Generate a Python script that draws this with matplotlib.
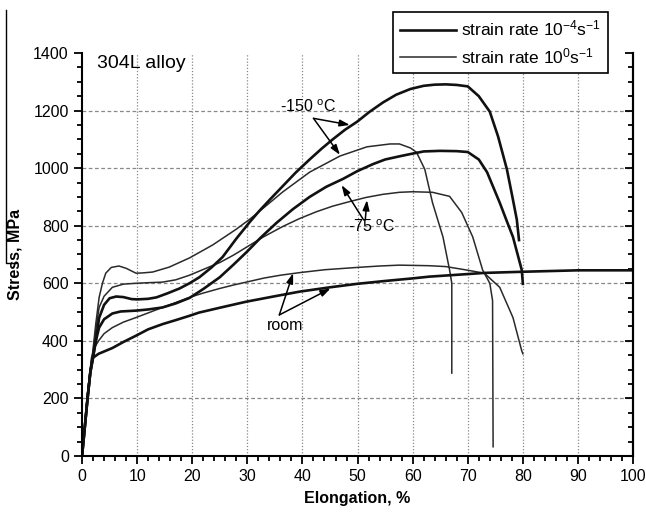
import matplotlib
matplotlib.use("Agg")
import matplotlib.pyplot as plt
from matplotlib.lines import Line2D
from matplotlib.ticker import MultipleLocator

plt.rcParams['font.family'] = ['Liberation Sans', 'DejaVu Sans']
plt.rcParams['mathtext.fontset'] = 'custom'
plt.rcParams['mathtext.rm'] = 'Liberation Sans'
plt.rcParams['mathtext.it'] = 'Liberation Sans'

# -150 C, strain rate 1e-4 (thick)
a_x = [0, 0.5, 1.0, 1.5, 1.9, 2.5, 3.1, 4, 5, 6.2, 7.5, 9, 10, 12, 13.5, 15.5, 17.7, 19.5,
       21.3, 23.5, 25.5, 28, 30.4, 32.2, 34.3, 36.4, 38.8, 41.3, 43.5, 45.5, 47.7, 49.9,
       52.2, 54.6, 57, 59.6, 62, 64, 66, 68, 70, 72, 74, 75.5, 77.1, 78.1, 78.9, 79.3]
a_y = [0, 100, 200, 290, 330, 400, 480, 525, 548, 554, 552, 545, 544, 546, 551, 565, 582, 600,
       621, 655, 691, 755, 812, 852, 895, 937, 985, 1030, 1068, 1100, 1133, 1161,
       1196, 1228, 1255, 1275, 1286, 1290, 1291, 1289, 1284, 1250, 1196, 1110, 996, 900, 821, 750]

# -150 C, strain rate 1e0 (thin)
b_x = [0, 0.5, 1, 1.5, 1.9, 2.5, 3.1, 3.7, 4.3, 5.3, 6.7, 8, 9.8, 11, 12.8, 15.8, 19.5, 23.7,
       28, 30.4, 32.2, 36.4, 41.3, 46.8, 51.7, 55.9, 57.6, 59.6, 60.7, 62.2, 63.6, 65.5,
       66.7, 67.1, 67.1]
b_y = [0, 110, 220, 300, 354, 460, 551, 600, 635, 655, 660, 652, 635, 636, 639, 656, 688, 733,
       788, 822, 850, 917, 986, 1042, 1074, 1084, 1084, 1070, 1055, 996, 880, 761,
       646, 600, 288]

# -75 C, strain rate 1e-4 (thick)
c_x = [0, 0.5, 1, 1.5, 1.9, 2.5, 3.1, 4, 5.5, 7, 9.8, 12, 14.6, 17, 19.5, 22, 25, 27.5, 29.9,
       32.5, 35.3, 38.3, 41.3, 44.3, 47.4, 50, 52.8, 55, 57.6, 59.6, 62, 65, 68, 70, 72,
       73.5, 75.8, 77, 78.2, 79.8, 80]
c_y = [0, 100, 200, 290, 335, 400, 446, 475, 495, 502, 505, 509, 516, 530, 549, 580, 621, 665, 709,
       760, 810, 858, 900, 935, 963, 990, 1014, 1030, 1041, 1049, 1058, 1060, 1059, 1056, 1030,
       986, 880, 820, 761, 646, 598]

# -75 C, strain rate 1e0 (thin)
d_x = [0, 0.5, 1, 1.5, 1.9, 2.5, 3.1, 4, 5.5, 7.5, 9.8, 12, 14.6, 17, 19.5, 22, 25, 27.5, 29.9,
       33, 36.4, 39.5, 42.6, 45.5, 48.6, 51.5, 54.6, 57.6, 60, 63.6, 66.7, 68.9, 70.9, 72.7,
       74, 74.5, 74.6]
d_y = [0, 110, 215, 300, 345, 440, 516, 555, 586, 597, 600, 602, 604, 612, 628, 648, 672, 698, 726,
       762, 797, 825, 849, 868, 884, 898, 909, 916, 918, 916, 902, 846, 761, 646,
       600, 540, 32]

# room temperature, strain rate 1e0 (thin)
e_x = [0, 0.5, 1, 1.7, 2.2, 3, 4, 5.5, 7.5, 9.8, 12, 14.6, 17, 19.5, 22, 25, 27.5, 29.8, 33, 36,
       39.5, 44, 49.9, 54, 57.6, 63, 66, 69.8, 73, 75.8, 78.2, 79.8, 80]
e_y = [0, 110, 215, 340, 375, 400, 425, 446, 465, 481, 497, 516, 533, 551, 566, 582, 594, 604, 618, 628,
       637, 647, 655, 660, 663, 661, 658, 646, 635, 586, 481, 365, 355]

# room temperature, strain rate 1e-4 (thick)
f_x = [0, 0.5, 1, 1.5, 1.9, 3, 5.5, 7.5, 9.8, 12, 14.6, 17, 19.5, 21.2, 25, 29.8, 35, 39.5, 45,
       49.9, 55, 60, 63, 70, 73, 80, 90, 100]
f_y = [0, 100, 200, 290, 340, 355, 375, 396, 418, 440, 458, 472, 487, 498, 515, 536, 555, 571, 586,
       598, 608, 617, 623, 632, 636, 640, 645, 645]

legend_labels = [r'strain rate 10$^{\mathregular{-4}}$s$^{\mathregular{-1}}$',
                 r'strain rate 10$^{\mathregular{0}}$s$^{\mathregular{-1}}$']

thick = dict(color='#111111', lw=1.9, solid_joinstyle='round')
thin = dict(color='#2a2a2a', lw=1.1, solid_joinstyle='round')

fig = plt.figure(figsize=(6.46, 5.15), dpi=100)
ax = fig.add_axes([0.127, 0.1146, 0.853, 0.7825])

ax.plot(b_x, b_y, **thin)
ax.plot(d_x, d_y, **thin)
ax.plot(e_x, e_y, **thin)
ax.plot(a_x, a_y, **thick)
ax.plot(c_x, c_y, **thick)
ax.plot(f_x, f_y, **thick)

ax.set_xlim(0, 100)
ax.set_ylim(0, 1400)
ax.xaxis.set_major_locator(MultipleLocator(10))
ax.xaxis.set_minor_locator(MultipleLocator(2))
ax.yaxis.set_major_locator(MultipleLocator(200))
ax.yaxis.set_minor_locator(MultipleLocator(50))

for x in range(10, 100, 10):
    ax.axvline(x, color='#888888', lw=0.9, ls=(0, (1, 1.5)), zorder=0)
for y in range(200, 1400, 200):
    ax.axhline(y, color='#888888', lw=0.9, ls=(0, (3, 2)), zorder=0)

ax.spines['top'].set_visible(False)
for s in ['left', 'bottom', 'right']:
    ax.spines[s].set_linewidth(1.5)
ax.tick_params(which='both', direction='out', width=1.3, labelsize=11.5)
ax.tick_params(which='major', length=6)
ax.tick_params(which='minor', length=3.5)
ax.tick_params(axis='y', which='both', right=False)

# right side ticks point inward
sec = ax.secondary_yaxis('right')
sec.yaxis.set_major_locator(MultipleLocator(200))
sec.yaxis.set_minor_locator(MultipleLocator(50))
sec.tick_params(which='both', direction='in', width=1.3, labelright=False)
sec.tick_params(which='major', length=6)
sec.tick_params(which='minor', length=3.5)
sec.spines['right'].set_linewidth(1.5)

ax.set_xlabel('Elongation, %', fontsize=11.5, fontweight='bold')
ax.set_ylabel('Stress, MPa', fontsize=11.5, fontweight='bold')
ax.xaxis.set_label_coords(0.5, -0.088)
ax.yaxis.set_label_coords(-0.108, 0.5)

ax.text(2.7, 1392, '304L alloy', fontsize=14, va='top', ha='left')

arrow = dict(arrowstyle='-|>,head_length=0.6,head_width=0.2', color='black', lw=1.1,
             shrinkA=0, shrinkB=0)
ax.text(41.1, 1212, r'-150 $^{\mathregular{o}}$C', fontsize=11.5, ha='center', va='center')
ax.annotate('', xy=(48.6, 1150), xytext=(42.0, 1173), arrowprops=arrow)
ax.annotate('', xy=(46.8, 1046), xytext=(42.0, 1173), arrowprops=arrow)

ax.text(52.6, 797, r'-75 $^{\mathregular{o}}$C', fontsize=11.5, ha='center', va='center')
ax.annotate('', xy=(47.1, 941), xytext=(51.1, 820), arrowprops=arrow)
ax.annotate('', xy=(51.7, 889), xytext=(51.4, 820), arrowprops=arrow)

ax.text(36.8, 455, 'room', fontsize=11.5, ha='center', va='center')
ax.annotate('', xy=(38.3, 635), xytext=(35.8, 490), arrowprops=arrow)
ax.annotate('', xy=(45.1, 582), xytext=(35.8, 490), arrowprops=arrow)

handles = [Line2D([], [], **thick), Line2D([], [], **thin)]
leg = ax.legend(handles, legend_labels, loc='upper left', bbox_to_anchor=(0.565, 1.102),
                borderaxespad=0, fancybox=False, framealpha=1, edgecolor='black',
                fontsize=12.5, handlelength=3.2, handletextpad=0.3, labelspacing=0.45,
                borderpad=0.4)
leg.get_frame().set_linewidth(1.2)
leg.set_zorder(10)

# stray border line at the left edge of the scanned figure
fig.add_artist(Line2D([0.0093, 0.0093, 0.025], [0.981, 0.489, 0.489], color='black', lw=1.0))

fig.savefig('out.png', dpi=100)
